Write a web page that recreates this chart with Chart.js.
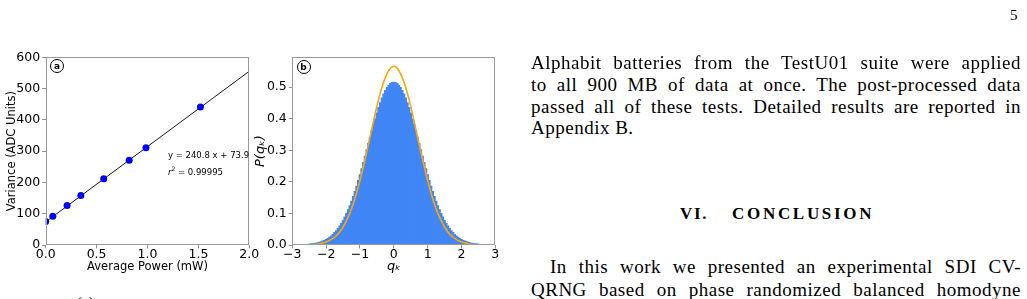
<!DOCTYPE html>
<html><head><meta charset="utf-8">
<script src="https://cdn.jsdelivr.net/npm/chart.js@4.4.1/dist/chart.umd.min.js"></script>
<style>
html,body{margin:0;padding:0;background:#fff;width:1027px;height:299px;overflow:hidden;}
body{position:relative;}
canvas{position:absolute;}
.t{position:absolute;font-family:'Liberation Serif','Times New Roman',serif;color:#000;font-size:19px;line-height:19px;letter-spacing:0.5px;}
.j{text-align:justify;text-align-last:justify;}
.circ{position:absolute;width:12px;height:12px;border:1.2px solid #000;border-radius:50%;font:bold 9px 'DejaVu Sans',sans-serif;text-align:center;line-height:12px;color:#000;}
.ann{position:absolute;font-family:'DejaVu Sans',sans-serif;font-size:8.5px;line-height:10px;color:#000;white-space:nowrap;}
</style>
</head><body>
<canvas id="ca" width="265" height="240" style="left:0;top:40px;width:265px;height:240px"></canvas>
<canvas id="cb" width="262" height="240" style="left:250px;top:40px;width:262px;height:240px"></canvas>

<div class="circ" style="left:50.1px;top:58.8px">a</div>
<div class="circ" style="left:296.5px;top:59.8px">b</div>
<div class="ann" style="left:168px;top:150px">y = 240.8 x + 73.9</div>
<div class="ann" style="left:168px;top:164px"><i>r</i><sup style="font-size:6px;vertical-align:4px">2</sup> = 0.99995</div>

<div class="t" style="left:1010px;top:7.5px;font-size:15px;line-height:15px;letter-spacing:0">5</div>

<div class="t j" style="left:531px;top:53.2px;width:490px">Alphabit batteries from the TestU01 suite were applied</div>
<div class="t j" style="left:531px;top:75px;width:490px">to all 900 MB of data at once. The post-processed data</div>
<div class="t j" style="left:531px;top:96.7px;width:490px">passed all of these tests. Detailed results are reported in</div>
<div class="t" style="left:531px;top:118.3px;width:490px">Appendix B.</div>

<div class="t" style="left:680px;top:204.5px;font-size:17px;line-height:17px;font-weight:bold;letter-spacing:1.7px">VI.</div>
<div class="t" style="left:732px;top:204.5px;font-size:17px;line-height:17px;font-weight:bold;letter-spacing:2.7px">CONCLUSION</div>

<div class="t j" style="left:550px;top:257.3px;width:471px">In this work we presented an experimental SDI CV-</div>
<div class="t j" style="left:531px;top:279.5px;width:490px">QRNG based on phase randomized balanced homodyne</div>
<div class="t" style="left:77px;top:294.5px;font-size:15px;line-height:15px;letter-spacing:0">(a)</div>

<script>
// ---- Panel (a): variance vs optical power ----
const powerMW     = [0, 0.07, 0.21, 0.345, 0.57, 0.82, 0.985, 1.52];
const varianceADC = [75, 92, 126, 158, 212, 271, 311, 441];
const fitX        = [0, 2.0];
const fitY        = [73.9, 555.5];
const powerTicks    = [0, 0.5, 1.0, 1.5, 2.0];
const varianceTicks = [0, 100, 200, 300, 400, 500, 600];

// ---- Panel (b): histogram of q_k and Gaussian ----
const qBins = [-2.70,-2.65,-2.60,-2.55,-2.50,-2.45,-2.40,-2.35,-2.30,-2.25,-2.20,-2.15,-2.10,-2.05,-2.00,-1.95,-1.90,-1.85,-1.80,-1.75,-1.70,-1.65,-1.60,-1.55,-1.50,-1.45,-1.40,-1.35,-1.30,-1.25,-1.20,-1.15,-1.10,-1.05,-1.00,-0.95,-0.90,-0.85,-0.80,-0.75,-0.70,-0.65,-0.60,-0.55,-0.50,-0.45,-0.40,-0.35,-0.30,-0.25,-0.20,-0.15,-0.10,-0.05,0.00,0.05,0.10,0.15,0.20,0.25,0.30,0.35,0.40,0.45,0.50,0.55,0.60,0.65,0.70,0.75,0.80,0.85,0.90,0.95,1.00,1.05,1.10,1.15,1.20,1.25,1.30,1.35,1.40,1.45,1.50,1.55,1.60,1.65,1.70,1.75,1.80,1.85,1.90,1.95,2.00,2.05,2.10,2.15,2.20,2.25,2.30,2.35,2.40,2.45,2.50,2.55,2.60,2.65,2.70];
const histP = [0.0012,0.0014,0.0018,0.0022,0.0028,0.0034,0.0042,0.0051,0.0062,0.0075,0.009,0.011,0.013,0.015,0.018,0.021,0.025,0.029,0.034,0.040,0.046,0.053,0.061,0.069,0.078,0.089,0.100,0.112,0.125,0.139,0.154,0.170,0.187,0.205,0.223,0.242,0.262,0.282,0.302,0.322,0.342,0.362,0.382,0.400,0.419,0.436,0.451,0.466,0.479,0.490,0.499,0.506,0.512,0.515,0.516,0.515,0.512,0.506,0.499,0.490,0.479,0.466,0.451,0.436,0.419,0.400,0.382,0.362,0.342,0.322,0.302,0.282,0.262,0.242,0.223,0.205,0.187,0.170,0.154,0.139,0.125,0.112,0.100,0.089,0.078,0.069,0.061,0.053,0.046,0.040,0.034,0.029,0.025,0.021,0.018,0.015,0.013,0.011,0.009,0.0075,0.0062,0.0051,0.0042,0.0034,0.0028,0.0022,0.0018,0.0014,0.0012];
const qCurve = [-2.8,-2.7,-2.6,-2.5,-2.4,-2.3,-2.2,-2.1,-2.0,-1.9,-1.8,-1.7,-1.6,-1.5,-1.4,-1.3,-1.2,-1.1,-1.0,-0.9,-0.8,-0.7,-0.6,-0.5,-0.4,-0.3,-0.2,-0.1,0.0,0.1,0.2,0.3,0.4,0.5,0.6,0.7,0.8,0.9,1.0,1.1,1.2,1.3,1.4,1.5,1.6,1.7,1.8,1.9,2.0,2.1,2.2,2.3,2.4,2.5,2.6,2.7,2.8];
const gaussP = [0.0002,0.0003,0.0006,0.0010,0.0016,0.0026,0.0041,0.0063,0.0096,0.0142,0.0208,0.0297,0.0415,0.057,0.077,0.101,0.130,0.165,0.204,0.248,0.295,0.343,0.392,0.439,0.481,0.516,0.543,0.560,0.566,0.560,0.543,0.516,0.481,0.439,0.392,0.343,0.295,0.248,0.204,0.165,0.130,0.101,0.077,0.057,0.0415,0.0297,0.0208,0.0142,0.0096,0.0063,0.0041,0.0026,0.0016,0.0010,0.0006,0.0003,0.0002];
const qTicks = [-3, -2, -1, 0, 1, 2, 3];
const pTicks = [0.0, 0.1, 0.2, 0.3, 0.4, 0.5];

const SPINE = '#9a9a9a';
const TICKFONT = {family:"'DejaVu Sans', sans-serif", size:12.5};

const frame = {
  id:'frame',
  afterDatasetsDraw(chart){
    const {ctx, chartArea:a} = chart;
    ctx.save();
    ctx.strokeStyle = SPINE; ctx.lineWidth = 1;
    const l = Math.round(a.left)+0.5, t = Math.round(a.top)+0.5, r = Math.round(a.right)-0.5, b = Math.round(a.bottom)-0.5;
    ctx.strokeRect(l, t, r-l, b-t);
    ctx.restore();
  }
};

function axis(opts){
  return Object.assign({
    type:'linear',
    grid:{drawOnChartArea:false, drawTicks:true, tickLength:3.5, color:'#777', lineWidth:0.8, offset:false},
    border:{display:false},
    offset:false
  }, opts);
}

new Chart(document.getElementById('ca'), {
  type:'scatter',
  data:{datasets:[
    {data: powerMW.map((x,i)=>({x, y:varianceADC[i]})), backgroundColor:'#0000ff', borderColor:'#0000ff',
     pointRadius:3.5, pointBorderWidth:0, showLine:false, order:0},
    {data: fitX.map((x,i)=>({x, y:fitY[i]})), borderColor:'#000', borderWidth:0.9, pointRadius:0,
     showLine:true, fill:false, order:1}
  ]},
  options:{
    responsive:false, animation:false, devicePixelRatio:1,
    layout:{padding:{top:17.3, right:15.7, left:0, bottom:0}},
    plugins:{legend:{display:false}, tooltip:{enabled:false}},
    scales:{
      x: axis({min:0, max:2,
        afterBuildTicks:s=>{s.ticks = powerTicks.map(v=>({value:v}));},
        afterFit:s=>{s.height = 35;},
        ticks:{font:TICKFONT, color:'#000', padding:-1.5, maxRotation:0, autoSkip:false, callback:v=>Number(v).toFixed(1)},
        title:{display:true, text:'Average Power (mW)', color:'#000', font:{family:"'DejaVu Sans', sans-serif", size:11.5}, padding:{top:0, bottom:6.2}}
      }),
      y: axis({min:0, max:600,
        afterBuildTicks:s=>{s.ticks = varianceTicks.map(v=>({value:v}));},
        afterFit:s=>{s.width = 45.7;},
        ticks:{font:TICKFONT, color:'#000', padding:2, autoSkip:false, callback:v=>String(v)},
        title:{display:true, text:'Variance (ADC Units)', color:'#000', font:{family:"'DejaVu Sans', sans-serif", size:11.5}, padding:{top:5.2, bottom:0}}
      })
    }
  },
  plugins:[frame]
});

new Chart(document.getElementById('cb'), {
  type:'bar',
  data:{datasets:[
    {type:'line', data: qCurve.map((x,i)=>({x, y:gaussP[i]})), borderColor:'#ffa500', borderWidth:1.6,
     pointRadius:0, fill:false, cubicInterpolationMode:'monotone', order:0},
    {type:'bar', data: qBins.map((x,i)=>({x, y:histP[i]})), backgroundColor:'#4086f6', borderWidth:0,
     barPercentage:1, categoryPercentage:1, barThickness:1.9, grouped:false, order:1}
  ]},
  options:{
    responsive:false, animation:false, devicePixelRatio:1,
    layout:{padding:{top:17.3, right:16.7, left:0, bottom:0}},
    plugins:{legend:{display:false}, tooltip:{enabled:false}},
    scales:{
      x: axis({min:-3, max:3,
        afterBuildTicks:s=>{s.ticks = qTicks.map(v=>({value:v}));},
        afterFit:s=>{s.height = 35;},
        ticks:{font:TICKFONT, color:'#000', padding:-1.5, maxRotation:0, autoSkip:false, callback:v=> v<0 ? '\u2212'+Math.abs(v) : String(v)},
        title:{display:true, text:'q\u2096', color:'#000', font:{family:"'DejaVu Sans', sans-serif", size:13, style:'italic'}, padding:{top:0, bottom:5.7}}
      }),
      y: axis({min:0, max:0.5945,
        afterBuildTicks:s=>{s.ticks = pTicks.map(v=>({value:v}));},
        afterFit:s=>{s.width = 42.3;},
        ticks:{font:TICKFONT, color:'#000', padding:2, autoSkip:false, callback:v=>Number(v).toFixed(1)},
        title:{display:true, text:'P(q\u2096)', color:'#000', font:{family:"'DejaVu Sans', sans-serif", size:13, style:'italic'}, padding:{top:2.8, bottom:0}}
      })
    }
  },
  plugins:[frame]
});
</script>
</body></html>
